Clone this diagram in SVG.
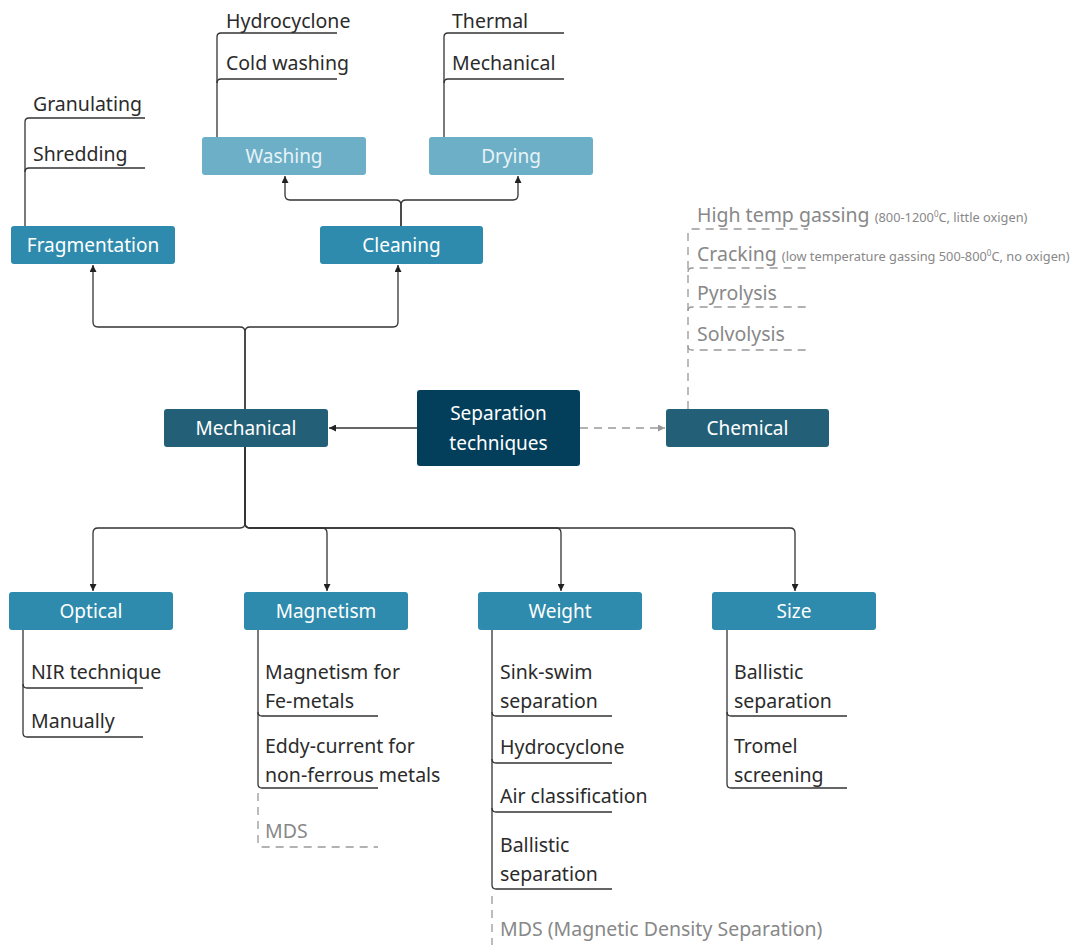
<svg xmlns="http://www.w3.org/2000/svg" width="1076" height="945" viewBox="0 0 1076 945">
  <style>
    .box { rx: 3; ry: 3; }
    .b-root { fill: #033f5b; }
    .b-cat { fill: #245f78; }
    .b-mid { fill: #2e8bad; }
    .b-light { fill: #6cafc7; }
    .lbl { font-family: "Noto Sans", "DejaVu Sans", sans-serif; font-size: 19px; fill: #ffffff; text-anchor: middle; }
    .lbl-light { fill: #e8f3f7; }
    .item { font-family: "Noto Sans", "DejaVu Sans", sans-serif; font-size: 19.5px; fill: #2b2b2b; }
    .item-g { fill: #888888; }
    .small { font-size: 12.8px; }
    .conn { fill: none; stroke: #333333; stroke-width: 1.3; }
    .conn-d { fill: none; stroke: #999999; stroke-width: 1.3; stroke-dasharray: 8 6; }
    .brace { fill: none; stroke: #333333; stroke-width: 1.3; }
    .brace-d { fill: none; stroke: #999999; stroke-width: 1.3; stroke-dasharray: 8 6; }
  </style>
  <defs>
    <marker id="arr" viewBox="0 0 10 10" refX="10" refY="5" markerWidth="7" markerHeight="7" orient="auto" markerUnits="userSpaceOnUse">
      <path d="M0,0 L10,5 L0,10 z" fill="#222222"/>
    </marker>
    <marker id="arr-g" viewBox="0 0 10 10" refX="10" refY="5" markerWidth="8" markerHeight="7" orient="auto" markerUnits="userSpaceOnUse">
      <path d="M0,0 L10,5 L0,10 z" fill="#999999"/>
    </marker>
  </defs>

  <rect width="1076" height="945" fill="#ffffff"/>

  <!-- connectors between nodes -->
  <g id="connectors">
    <line class="conn" x1="417" y1="428" x2="329" y2="428" marker-end="url(#arr)"/>
    <line class="conn-d" x1="580" y1="428" x2="665" y2="428" marker-end="url(#arr-g)"/>
    <!-- Mechanical up to Fragmentation / Cleaning -->
    <path class="conn" d="M245,409 V332 Q245,327 240,327 H98 Q93,327 93,322 V265" marker-end="url(#arr)"/>
    <path class="conn" d="M245,409 V332 Q245,327 250,327 H393 Q398,327 398,322 V265" marker-end="url(#arr)"/>
    <!-- Cleaning up to Washing / Drying -->
    <path class="conn" d="M401,226 V205 Q401,200 396,200 H290 Q285,200 285,195 V176" marker-end="url(#arr)"/>
    <path class="conn" d="M401,226 V205 Q401,200 406,200 H513 Q518,200 518,195 V176" marker-end="url(#arr)"/>
    <!-- Mechanical down to the four categories -->
    <path class="conn" d="M245,447 V523 Q245,528 240,528 H98 Q93,528 93,533 V591" marker-end="url(#arr)"/>
    <path class="conn" d="M245,447 V523 Q245,528 250,528 H322 Q327,528 327,533 V591" marker-end="url(#arr)"/>
    <path class="conn" d="M245,447 V523 Q245,528 250,528 H556 Q561,528 561,533 V591" marker-end="url(#arr)"/>
    <path class="conn" d="M245,447 V523 Q245,528 250,528 H790 Q795,528 795,533 V591" marker-end="url(#arr)"/>
  </g>

  <!-- root -->
  <g id="separation">
    <rect class="box b-root" x="417" y="390" width="163" height="76"/>
    <text class="lbl" x="498.5" y="420">Separation</text>
    <text class="lbl" x="498.5" y="450">techniques</text>
  </g>

  <g id="mechanical">
    <rect class="box b-cat" x="164" y="409" width="164" height="38"/>
    <text class="lbl" x="246" y="435">Mechanical</text>
  </g>

  <g id="chemical">
    <rect class="box b-cat" x="666" y="409" width="163" height="38"/>
    <text class="lbl" x="747.5" y="435">Chemical</text>
    <path class="brace-d" d="M688,409 V233 Q688,229 692,229 H808"/>
    <path class="brace-d" d="M688,272 Q688,268 692,268 H808"/>
    <path class="brace-d" d="M688,311 Q688,307 692,307 H808"/>
    <path class="brace-d" d="M688,346 Q688,350 692,350 H808"/>
    <text class="item item-g" x="697" y="222">High temp gassing <tspan class="small">(800-1200<tspan font-size="8" dy="-5">0</tspan><tspan dy="5">C, little oxigen)</tspan></tspan></text>
    <text class="item item-g" x="697" y="261">Cracking <tspan class="small">(low temperature gassing 500-800<tspan font-size="8" dy="-5">0</tspan><tspan dy="5">C, no oxigen)</tspan></tspan></text>
    <text class="item item-g" x="697" y="300">Pyrolysis</text>
    <text class="item item-g" x="697" y="341">Solvolysis</text>
  </g>

  <g id="fragmentation">
    <rect class="box b-mid" x="11" y="226" width="164" height="38"/>
    <text class="lbl" x="93" y="252">Fragmentation</text>
    <path class="brace" d="M25,226 V122 Q25,118 29,118 H145"/>
    <path class="brace" d="M25,172 Q25,168 29,168 H145"/>
    <text class="item" x="33" y="111">Granulating</text>
    <text class="item" x="33" y="161">Shredding</text>
  </g>

  <g id="cleaning">
    <rect class="box b-mid" x="320" y="226" width="163" height="38"/>
    <text class="lbl" x="401.5" y="252">Cleaning</text>
  </g>

  <g id="washing">
    <rect class="box b-light" x="202" y="137" width="164" height="38"/>
    <text class="lbl lbl-light" x="284" y="163">Washing</text>
    <path class="brace" d="M217,137 V37 Q217,33 221,33 H337"/>
    <path class="brace" d="M217,83 Q217,79 221,79 H337"/>
    <text class="item" x="226" y="28">Hydrocyclone</text>
    <text class="item" x="226" y="70">Cold washing</text>
  </g>

  <g id="drying">
    <rect class="box b-light" x="429" y="137" width="164" height="38"/>
    <text class="lbl lbl-light" x="511" y="163">Drying</text>
    <path class="brace" d="M444,137 V37 Q444,33 448,33 H564"/>
    <path class="brace" d="M444,83 Q444,79 448,79 H564"/>
    <text class="item" x="452" y="28">Thermal</text>
    <text class="item" x="452" y="70">Mechanical</text>
  </g>

  <g id="optical">
    <rect class="box b-mid" x="9" y="592" width="164" height="38"/>
    <text class="lbl" x="91" y="618">Optical</text>
    <path class="brace" d="M23,630 V733 Q23,737 27,737 H143"/>
    <path class="brace" d="M23,684 Q23,688 27,688 H143"/>
    <text class="item" x="31" y="679">NIR technique</text>
    <text class="item" x="31" y="728">Manually</text>
  </g>

  <g id="magnetism">
    <rect class="box b-mid" x="244" y="592" width="164" height="38"/>
    <text class="lbl" x="326" y="618">Magnetism</text>
    <path class="brace" d="M258,630 V784 Q258,788 262,788 H378"/>
    <path class="brace" d="M258,712 Q258,716 262,716 H378"/>
    <path class="brace-d" d="M258,793 V843 Q258,847 262,847 H378"/>
    <text class="item" x="265" y="679">Magnetism for</text>
    <text class="item" x="265" y="708">Fe-metals</text>
    <text class="item" x="265" y="753">Eddy-current for</text>
    <text class="item" x="265" y="782">non-ferrous metals</text>
    <text class="item item-g" x="265" y="838">MDS</text>
  </g>

  <g id="weight">
    <rect class="box b-mid" x="478" y="592" width="164" height="38"/>
    <text class="lbl" x="560" y="618">Weight</text>
    <path class="brace" d="M492,630 V885 Q492,889 496,889 H612"/>
    <path class="brace" d="M492,712 Q492,716 496,716 H612"/>
    <path class="brace" d="M492,759 Q492,763 496,763 H612"/>
    <path class="brace" d="M492,808 Q492,812 496,812 H612"/>
    <path class="brace-d" d="M492,896 V945"/>
    <text class="item" x="500" y="679">Sink-swim</text>
    <text class="item" x="500" y="708">separation</text>
    <text class="item" x="500" y="754">Hydrocyclone</text>
    <text class="item" x="500" y="803">Air classification</text>
    <text class="item" x="500" y="852">Ballistic</text>
    <text class="item" x="500" y="881">separation</text>
    <text class="item item-g" x="500" y="936">MDS (Magnetic Density Separation)</text>
  </g>

  <g id="size">
    <rect class="box b-mid" x="712" y="592" width="164" height="38"/>
    <text class="lbl" x="794" y="618">Size</text>
    <path class="brace" d="M727,630 V784 Q727,788 731,788 H847"/>
    <path class="brace" d="M727,712 Q727,716 731,716 H847"/>
    <text class="item" x="734" y="679">Ballistic</text>
    <text class="item" x="734" y="708">separation</text>
    <text class="item" x="734" y="753">Tromel</text>
    <text class="item" x="734" y="782">screening</text>
  </g>
</svg>
